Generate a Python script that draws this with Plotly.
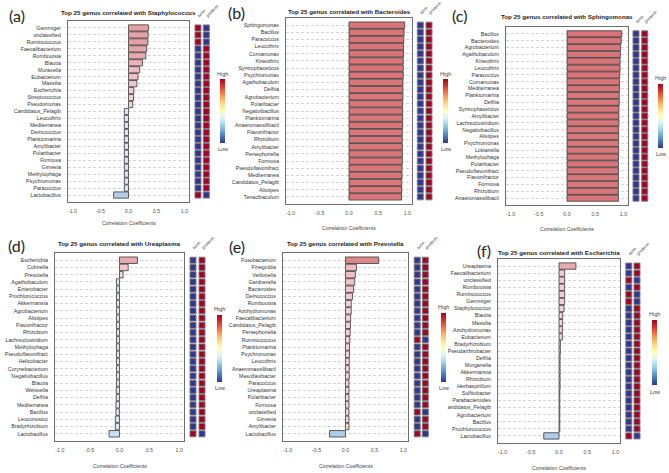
import plotly.graph_objects as go

# ---------------- data ----------------
titles = ["Top 25 genus correlated with Staphylococcus",
          "Top 25 genus correlated with Bacteroides",
          "Top 25 genus correlated with Sphingomonas",
          "Top 25 genus correlated with Ureaplasma",
          "Top 25 genus correlated with Prevotella",
          "Top 25 genus correlated with Escherichia"]
panel_labels = ["(a)", "(b)", "(c)", "(d)", "(e)", "(f)"]
heat_columns = ["term", "preterm"]
x_tickvals = [-1.0, -0.5, 0.0, 0.5, 1.0]
x_ticktext = ["-1.0", "-0.5", "0.0", "0.5", "1.0"]

a_genus = ["Gemmiger", "unclassified", "Ruminococcus", "Faecalibacterium", "Romboutsia", "Blautia",
           "Moraxella", "Eubacterium", "Massilia", "Escherichia", "Streptococcus", "Pseudomonas",
           "Candidatus_Pelagib", "Leucothrix", "Mediterranea", "Deinococcus", "Planktomarina",
           "Amylibacter", "Polaribacter", "Formosa", "Gimesia", "Methylophaga", "Psychromonas",
           "Paracoccus", "Lactobacillus"]
a_corr = [0.355, 0.35, 0.345, 0.325, 0.31, 0.25, 0.20, 0.17, 0.15, 0.095, 0.09, 0.075,
          -0.075, -0.075, -0.075, -0.075, -0.075, -0.075, -0.075, -0.075, -0.075, -0.075,
          -0.075, -0.075, -0.265]
a_term = [1, 1, 1] + [0] * 21 + [1]

b_genus = ["Sphingomonas", "Bacillus", "Paracoccus", "Leucothrix", "Comamonas", "Kineothrix",
           "Syntrophaceticus", "Psychromonas", "Agathobaculum", "Delftia", "Agrobacterium",
           "Polaribacter", "Negativibacillus", "Planktomarina", "Anaeromassilibacil", "Flavonifractor",
           "Rhizobium", "Amylibacter", "Persephonella", "Formosa", "Pseudoflavonifract", "Mediterranea",
           "Candidatus_Pelagib", "Alistipes", "Tenacibaculum"]
b_corr = [0.955, 0.945, 0.94, 0.935, 0.935, 0.93, 0.93, 0.93, 0.925, 0.925, 0.925, 0.92, 0.92,
          0.92, 0.92, 0.915, 0.915, 0.915, 0.915, 0.915, 0.91, 0.91, 0.905, 0.905, 0.90]
b_term = [0] * 25

c_genus = ["Bacillus", "Bacteroides", "Agrobacterium", "Agathobaculum", "Kineothrix", "Leucothrix",
           "Paracoccus", "Comamonas", "Mediterranea", "Planktomarina", "Delftia", "Syntrophaceticus",
           "Amylibacter", "Lachnoclostridium", "Negativibacillus", "Alistipes", "Psychromonas",
           "Loktanella", "Methylophaga", "Polaribacter", "Pseudoflavonifract", "Flavonifractor",
           "Formosa", "Rhizobium", "Anaeromassilibacil"]
c_corr = [0.97, 0.96, 0.95, 0.945, 0.94, 0.94, 0.935, 0.93, 0.93, 0.925, 0.925, 0.92, 0.92, 0.92,
          0.915, 0.915, 0.915, 0.915, 0.912, 0.912, 0.912, 0.91, 0.91, 0.91, 0.91]
c_term = [0] * 25

d_genus = ["Escherichia", "Cohnella", "Prevotella", "Agathobaculum", "Enterobacter", "Prochlorococcus",
           "Akkermansia", "Agrobacterium", "Alistipes", "Flavonifractor", "Rhizobium",
           "Lachnoclostridium", "Methylophaga", "Pseudoflavonifract", "Helicobacter", "Corynebacterium",
           "Negativibacillus", "Blautia", "Weissella", "Delftia", "Mediterranea", "Bacillus",
           "Leuconostoc", "Bradyrhizobium", "Lactobacillus"]
d_corr = [0.30, 0.145, 0.06, -0.05, -0.05, -0.05, -0.05, -0.05, -0.05, -0.05, -0.05, -0.05, -0.05,
          -0.05, -0.05, -0.05, -0.05, -0.05, -0.055, -0.055, -0.06, -0.06, -0.07, -0.07, -0.175]
d_term = [0] * 24 + [1]

e_genus = ["Fusobacterium", "Finegoldia", "Veillonella", "Gardnerella", "Bacteroides", "Deinococcus",
           "Romboutsia", "Azohydromonas", "Faecalibacterium", "Candidatus_Pelagib", "Persephonella",
           "Ruminococcus", "Planktomarina", "Psychromonas", "Leucothrix", "Anaeromassilibacil",
           "Mesoflavibacter", "Paracoccus", "Ureaplasma", "Polaribacter", "Formosa", "unclassified",
           "Gimesia", "Amylibacter", "Lactobacillus"]
e_corr = [0.575, 0.19, 0.17, 0.16, 0.14, 0.12, 0.10, 0.10, 0.09, 0.085, 0.08, 0.075, 0.07, 0.07,
          0.065, 0.065, 0.065, 0.06, 0.06, 0.06, 0.06, 0.06, 0.06, 0.06, -0.275]
e_term = [0] * 11 + [1] + [0] * 9 + [1] + [0, 0] + [1]

f_genus = ["Ureaplasma", "Faecalibacterium", "unclassified", "Romboutsia", "Ruminococcus", "Gemmiger",
           "Staphylococcus", "Blautia", "Massilia", "Azohydromonas", "Eubacterium", "Bradyrhizobium",
           "Pseudarthrobacter", "Delftia", "Morganella", "Akkermansia", "Rhizobium", "Herbaspirillum",
           "Sulfitobacter", "Parabacteroides", "andidatus_Pelagib", "Agrobacterium", "Bacillus",
           "Prochlorococcus", "Lactobacillus"]
f_corr = [0.30, 0.10, 0.10, 0.10, 0.10, 0.10, 0.09, 0.065, 0.065, 0.06, 0.06, 0.025, 0.025, 0.02,
          0.02, 0.02, 0.02, 0.02, 0.015, 0.015, 0.015, 0.015, 0.015, 0.015, -0.27]
f_term = [0, 0, 1, 0, 1, 1] + [0] * 18 + [1]

genus_lists = [a_genus, b_genus, c_genus, d_genus, e_genus, f_genus]
corr_lists = [a_corr, b_corr, c_corr, d_corr, e_corr, f_corr]
term_lists = [a_term, b_term, c_term, d_term, e_term, f_term]

# ---------------- layout geometry (pixels) ----------------
W, H = 669, 473
def px(x): return x / W
def py(y): return 1 - y / H

geom = [
    dict(box=(68, 189, 21, 202), cols=(198, 206.3), cb=(220, 79, 143, 74, 149), lab=(17, 15), ty=13, at=223),
    dict(box=(286, 412, 18, 204), cols=(420.3, 429), cb=(443, 79, 143, 74, 149), lab=(236, 13), ty=11, at=228),
    dict(box=(506, 628, 27, 205), cols=(636, 644.7), cb=(658, 84, 148, 78, 154), lab=(460, 15), ty=17, at=229),
    dict(box=(55, 184, 253, 441), cols=(193, 202), cb=(217, 315, 382, 309, 388), lab=(16, 245), ty=244, at=466),
    dict(box=(283, 408, 253, 441), cols=(417.2, 425.3), cb=(441, 313, 382, 307, 388), lab=(237, 246), ty=244, at=466),
    dict(box=(498, 620, 259, 443), cols=(628.8, 637), cb=(652, 320, 385, 314, 392), lab=(484, 250), ty=252, at=468),
]

FONT = "Liberation Sans"
bar_scale = [[0.0, '#3d72b8'], [0.35, '#a6c6e6'], [0.40, '#c9dcf0'], [0.499, '#dfeaf6'],
             [0.501, '#f8dde0'], [0.55, '#f3cdd1'], [0.675, '#e4a1a6'], [0.785, '#de878b'],
             [1.0, '#d87276']]

fig = go.Figure()
layout = dict(width=W, height=H, margin=dict(l=0, r=0, t=0, b=0, autoexpand=False),
              paper_bgcolor='white', plot_bgcolor='white', showlegend=False, bargap=0.1,
              font=dict(family=FONT, color='#333'))
annotations = []

for i in range(6):
    g = geom[i]
    genus, corr, term = genus_lists[i], corr_lists[i], term_lists[i]
    preterm = [1 - t for t in term]
    x0, x1, y0, y1 = g['box']
    nb = 2 * i + 1
    nh = 2 * i + 2
    xb = 'x' if nb == 1 else f'x{nb}'
    yb = 'y' if nb == 1 else f'y{nb}'
    xh, yh = f'x{nh}', f'y{nh}'
    ydom = [py(y1), py(y0)]
    yrange = [len(genus) - 0.5 + 0.5, -1.0]

    fig.add_trace(go.Bar(orientation='h', x=corr, y=genus, xaxis=xb, yaxis=yb, width=0.9,
                         marker=dict(color=corr, colorscale=bar_scale, cmin=-1, cmax=1,
                                     line=dict(color='#3a3a3a', width=0.8)),
                         hoverinfo='x+y'))
    for col, vals in zip(heat_columns, [term, preterm]):
        show = (col == "term")
        cb = g['cb']
        fig.add_trace(go.Scatter(x=[col] * len(genus), y=genus, mode='markers', xaxis=xh, yaxis=yh,
                                 marker=dict(symbol='square', size=6, color=vals, cmin=0, cmax=1,
                                             colorscale='RdYlBu', reversescale=True,
                                             line=dict(color='#7a7a7a', width=1),
                                             showscale=show,
                                             colorbar=dict(x=px(cb[0]), xanchor='left', xref='paper',
                                                           y=py((cb[1] + cb[2]) / 2), yanchor='middle',
                                                           len=cb[2] - cb[1], lenmode='pixels',
                                                           thickness=5, thicknessmode='pixels',
                                                           xpad=0, ypad=0, outlinewidth=0,
                                                           showticklabels=False, ticks='')),
                                 hoverinfo='x+y'))

    layout[f'xaxis{nb}'] = dict(domain=[px(x0), px(x1)], anchor=yb, range=[-1.08, 1.08],
                                tickvals=x_tickvals, ticktext=x_ticktext, ticks='',
                                tickfont=dict(size=5.3, color='#555'), ticklabelstandoff=4,
                                showgrid=False, zeroline=False, showline=True, mirror=True,
                                linecolor='#6e6e6e', linewidth=1.2, fixedrange=True, automargin=False)
    layout[f'yaxis{nb}'] = dict(domain=ydom, anchor=xb, type='category', categoryorder='array',
                                categoryarray=genus, range=yrange, ticks='',
                                tickfont=dict(size=5.25, color='#333'), ticklabelstandoff=5,
                                showgrid=True, gridcolor='#d4d4d4', gridwidth=0.6, griddash='3px,2px',
                                zeroline=False, showline=True, mirror=True, automargin=False,
                                linecolor='#6e6e6e', linewidth=1.2, fixedrange=True)
    c0, c1 = g['cols']
    pitch = c1 - c0
    layout[f'xaxis{nh}'] = dict(domain=[px(c0 - pitch / 2), px(c1 + pitch / 2)], anchor=yh,
                                type='category', categoryorder='array', categoryarray=heat_columns,
                                range=[-0.5, 1.5], side='top', tickangle=-45, ticks='',
                                tickfont=dict(size=4.5, color='#444'), ticklabelstandoff=1,
                                automargin=False,
                                showgrid=False, zeroline=False, showline=False, fixedrange=True)
    layout[f'yaxis{nh}'] = dict(domain=ydom, anchor=xh, type='category', categoryorder='array',
                                categoryarray=genus, range=yrange, showticklabels=False, ticks='',
                                automargin=False,
                                showgrid=False, zeroline=False, showline=False, fixedrange=True)

    cx = (x0 + x1) / 2
    annotations.append(dict(text=f"<b>{titles[i]}</b>", x=px(cx), y=py(g['ty']), xref='paper',
                            yref='paper', showarrow=False, xanchor='center', yanchor='middle',
                            font=dict(size=6.2, color='#222', family=FONT)))
    annotations.append(dict(text="Correlation Coefficients", x=px(cx), y=py(g['at']), xref='paper',
                            yref='paper', showarrow=False, xanchor='center', yanchor='middle',
                            font=dict(size=5.2, color='#444', family=FONT)))
    annotations.append(dict(text=panel_labels[i], x=px(g['lab'][0]), y=py(g['lab'][1]), xref='paper',
                            yref='paper', showarrow=False, xanchor='center', yanchor='middle',
                            font=dict(size=16, color='#222', family="Lato")))
    cb = g['cb']
    annotations.append(dict(text="High", x=px(cb[0] + 2.5), y=py(cb[3]), xref='paper', yref='paper',
                            showarrow=False, xanchor='center', yanchor='middle',
                            font=dict(size=5.5, color='#444', family=FONT)))
    annotations.append(dict(text="Low", x=px(cb[0] + 2.5), y=py(cb[4]), xref='paper', yref='paper',
                            showarrow=False, xanchor='center', yanchor='middle',
                            font=dict(size=5.5, color='#444', family=FONT)))

layout['annotations'] = annotations
fig.update_layout(**layout)
fig.write_html("out.html", config={'displayModeBar': False, 'responsive': False},
               post_script="document.body.style.margin='0';document.body.style.padding='0';")
